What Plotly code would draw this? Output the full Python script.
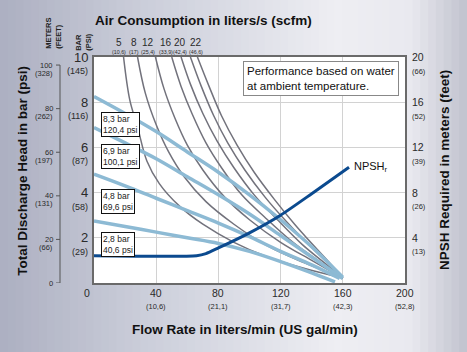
import plotly.graph_objects as go

# ---------------- data ----------------
# Pressure (inlet air) performance lines: flow (l/min) vs head (bar)
flow_83 = [0, 20, 40, 60, 80, 100, 120, 140, 160]
head_83 = [8.25, 7.5, 6.7, 5.8, 4.9, 3.9, 2.8, 1.6, 0.25]
flow_69 = [0, 20, 40, 60, 80, 100, 120, 140, 160]
head_69 = [6.88, 6.2, 5.5, 4.7, 3.9, 3.05, 2.1, 1.15, 0.2]
flow_48 = [0, 20, 40, 60, 80, 100, 120, 140, 158]
head_48 = [4.82, 4.3, 3.75, 3.2, 2.65, 2.05, 1.4, 0.8, 0.2]
flow_28 = [0, 20, 40, 60, 80, 100, 120, 140, 155]
head_28 = [2.75, 2.5, 2.25, 2.0, 1.75, 1.4, 0.95, 0.45, 0.05]

# Air consumption curves: flow (l/min) vs head (bar)
air_flow_1 = [19, 23, 28, 34, 42, 55, 70, 90, 110, 135, 160]
air_head_1 = [10, 8.1, 6.9, 5.4, 4.4, 3.4, 2.6, 1.8, 1.2, 0.65, 0.22]
air_flow_2 = [28, 33, 40, 48, 58, 72, 90, 110, 135, 160]
air_head_2 = [10, 8.4, 7.0, 5.8, 4.7, 3.6, 2.6, 1.7, 0.9, 0.22]
air_flow_3 = [39.5, 45, 52, 60, 70, 84, 100, 120, 140, 160]
air_head_3 = [10, 8.6, 7.3, 6.1, 5.0, 3.8, 2.8, 1.8, 1.0, 0.22]
air_flow_4 = [50, 56, 63, 72, 82, 95, 110, 128, 145, 160]
air_head_4 = [10, 8.7, 7.5, 6.2, 5.1, 3.9, 2.9, 1.8, 0.95, 0.22]
air_flow_5 = [56, 62, 70, 79, 90, 103, 118, 134, 148, 160]
air_head_5 = [10, 8.8, 7.5, 6.3, 5.1, 3.9, 2.8, 1.7, 0.9, 0.22]
air_flow_6 = [62, 69, 77, 86, 97, 110, 124, 138, 150, 160]
air_head_6 = [10, 8.7, 7.4, 6.2, 5.0, 3.8, 2.7, 1.7, 0.9, 0.22]
air_flow_7 = [66.5, 74, 82, 92, 103, 116, 129, 142, 152, 160]
air_head_7 = [10, 8.7, 7.4, 6.1, 4.9, 3.7, 2.6, 1.6, 0.85, 0.22]

# NPSH required: flow (l/min) vs meters
npsh_flow = [0, 66, 72, 80, 100, 120, 140, 164]
npsh_m = [2.42, 2.42, 2.6, 3.1, 4.44, 6.0, 7.9, 10.24]

# tick labels
bar_ticks = [10, 8, 6, 4, 2]
psi_labels = ["(145)", "(116)", "(87)", "(58)", "(29)"]
m_ticks = [100, 80, 60, 40, 20, 0]
ft_labels = ["(328)", "(262)", "(197)", "(131)", "(66)", ""]
flow_ticks = [0, 40, 80, 120, 160, 200]
gal_labels = ["", "(10,6)", "(21,1)", "(31,7)", "(42,3)", "(52,8)"]
npsh_ticks = [20, 16, 12, 8, 4]
npsh_ft = ["(66)", "(52)", "(39)", "(26)", "(13)"]
air_pos = [16.1, 25.4, 35.0, 46.5, 55.5, 65.8]
air_scfm = ["5", "8", "12", "16", "20", "22"]
air_lps = ["(10,6)", "(17)", "(25,4)", "(33,9)", "(42,4)", "(46,6)"]
box_labels = ["8,3 bar<br>120,4 psi", "6,9 bar<br>100,1 psi",
              "4,8 bar<br>69,6 psi", "2,8 bar<br>40,6 psi"]
box_tops = [7.57, 6.15, 4.16, 2.26]

# ---------------- figure ----------------
FONT = "Liberation Sans, Arial, sans-serif"
W, H = 467, 352
ML, MR, MT, MB = 94, 62, 57, 69
PW, PH = W - ML - MR, H - MT - MB


def px(xp):
    return (xp - ML) / PW


def py(yp):
    return (H - MB - yp) / PH


fig = go.Figure()

LB = "#8dbad4"
GR = "#72727c"
for fx, hy in [(air_flow_1, air_head_1), (air_flow_2, air_head_2), (air_flow_3, air_head_3),
               (air_flow_4, air_head_4), (air_flow_5, air_head_5), (air_flow_6, air_head_6),
               (air_flow_7, air_head_7)]:
    fig.add_trace(go.Scatter(x=fx, y=hy, mode="lines", line=dict(color=GR, width=1.5, shape="spline"),
                             hoverinfo="skip", showlegend=False))
for fx, hy in [(flow_83, head_83), (flow_69, head_69), (flow_48, head_48), (flow_28, head_28)]:
    fig.add_trace(go.Scatter(x=fx, y=hy, mode="lines", line=dict(color=LB, width=3.5, shape="spline"),
                             hoverinfo="skip", showlegend=False))
fig.add_trace(go.Scatter(x=npsh_flow, y=npsh_m, yaxis="y3", mode="lines",
                         line=dict(color="#0b4a8f", width=3, shape="spline", smoothing=0.6),
                         hoverinfo="skip", showlegend=False))

# background gradient
shapes = []
N = 60
stops = [(0.0, (172, 175, 193)), (0.3, (202, 205, 217)), (0.72, (238, 238, 243)),
         (0.88, (233, 233, 239)), (1.0, (192, 194, 206))]


def grad(f):
    for (f0, c0), (f1, c1) in zip(stops[:-1], stops[1:]):
        if f0 <= f <= f1:
            t = (f - f0) / (f1 - f0)
            return "rgb(%d,%d,%d)" % tuple(round(a + (b - a) * t) for a, b in zip(c0, c1))
    return "rgb(192,194,206)"


for i in range(N):
    x0p = W * i / N
    x1p = W * (i + 1) / N + 1
    shapes.append(dict(type="rect", xref="paper", yref="paper", x0=px(x0p), x1=px(x1p),
                       y0=py(H), y1=py(0), fillcolor=grad((i + 0.5) / N), line=dict(width=0),
                       layer="below"))
shapes.append(dict(type="rect", xref="paper", yref="paper", x0=0, x1=1, y0=0, y1=1,
                   fillcolor="white", line=dict(width=0), layer="below"))
# meters axis line and ticks
shapes.append(dict(type="line", xref="paper", yref="y2", x0=px(60), x1=px(60), y0=0, y1=100,
                   line=dict(color="#555", width=1)))
for m in m_ticks:
    shapes.append(dict(type="line", xref="paper", yref="y2", x0=px(56), x1=px(60), y0=m, y1=m,
                       line=dict(color="#555", width=1)))

ann = []
TXT = "#2a2a2a"


def A(**kw):
    kw.setdefault("showarrow", False)
    kw.setdefault("xanchor", "center")
    kw.setdefault("yanchor", "middle")
    ann.append(kw)


for v, s in zip(bar_ticks, psi_labels):
    A(x=px(90), y=v, xref="paper", yref="y", text=str(v), xanchor="right",
      font=dict(size=13, color=TXT, family=FONT))
    A(x=px(90), y=v, xref="paper", yref="y", text=s, yshift=-14, xanchor="right",
      font=dict(size=9, color=TXT, family=FONT))
for m, s in zip(m_ticks, ft_labels):
    A(x=px(55), y=m, xref="paper", yref="y2", text=str(m), xanchor="right",
      font=dict(size=7.5, color=TXT, family=FONT))
    if s:
        A(x=px(55), y=m, xref="paper", yref="y2", text=s, yshift=-8, xanchor="right",
          font=dict(size=7.5, color=TXT, family=FONT))
for v, s in zip(flow_ticks, gal_labels):
    A(x=v, y=py(293), xref="x", yref="paper", text=str(v), xshift=-7 if v == 0 else 0,
      font=dict(size=10.5, color=TXT, family=FONT))
    if s:
        A(x=v, y=py(306), xref="x", yref="paper", text=s,
          font=dict(size=7.5, color=TXT, family=FONT))
for v, s in zip(npsh_ticks, npsh_ft):
    A(x=px(410), y=v, xref="paper", yref="y3", text=str(v), xanchor="left",
      font=dict(size=10.5, color=TXT, family=FONT))
    A(x=px(410), y=v, xref="paper", yref="y3", text=s, yshift=-14, xanchor="left",
      font=dict(size=7.5, color=TXT, family=FONT))
for xpos, a, b in zip(air_pos, air_scfm, air_lps):
    A(x=xpos, y=py(42), xref="x", yref="paper", text=a,
      font=dict(size=10, color=TXT, family=FONT))
    A(x=xpos, y=py(51.5), xref="x", yref="paper", text=b,
      font=dict(size=5.3, color=TXT, family=FONT))
for t, ytop in zip(box_labels, box_tops):
    A(x=4.5, y=ytop, xref="x", yref="y", text=t, align="left",
      xanchor="left", yanchor="top", bgcolor="white", bordercolor="#111",
      borderwidth=1, borderpad=1, font=dict(size=8.5, color="#222", family=FONT))
A(x=95.5, y=9.82, xref="x", yref="y",
  text="Performance based on water<br>at ambient temperature.",
  align="left", xanchor="left", yanchor="top", bgcolor="white", bordercolor="#888",
  borderwidth=1, borderpad=3, font=dict(size=11.5, color="#111", family=FONT))
A(x=166, y=10.24, xref="x", yref="y3", text="NPSH<sub>r</sub>", xanchor="left",
  font=dict(size=11, color="#111", family=FONT))
# titles
TF = dict(size=13.5, color="#111", family=FONT)
A(x=px(203), y=py(20), xref="paper", yref="paper",
  text="<b>Air Consumption in liters/s (scfm)</b>", font=TF)
A(x=px(244.5), y=py(329), xref="paper", yref="paper",
  text="<b>Flow Rate in liters/min (US gal/min)</b>", font=TF)
A(x=px(21.7), y=py(171), xref="paper", yref="paper", textangle=-90,
  text="<b>Total Discharge Head in bar (psi)</b>", font=TF)
A(x=px(444), y=py(170), xref="paper", yref="paper", textangle=-90,
  text="<b>NPSH Required in meters (feet)</b>", font=TF)
A(x=px(83.3), y=py(41.5), xref="paper", yref="paper", textangle=-90,
  text="<b>BAR<br>(PSI)</b>", align="left",
  font=dict(size=7.5, color="#222", family=FONT))
A(x=px(53.3), y=py(33.5), xref="paper", yref="paper", textangle=-90,
  text="<b>METERS<br>(FEET)</b>", align="left",
  font=dict(size=7.5, color="#222", family=FONT))

fig.update_layout(
    width=W, height=H, margin=dict(l=ML, r=MR, t=MT, b=MB),
    paper_bgcolor="#d8d9e2", plot_bgcolor="white",
    showlegend=False, shapes=shapes, annotations=ann,
    xaxis=dict(range=[0, 200], tickvals=[40, 80, 120, 160], showticklabels=False, ticks="",
               showgrid=True, gridcolor="#d2d2d2", gridwidth=1, zeroline=False,
               showline=True, linecolor="#6a6a6a", linewidth=1.5, mirror=True, fixedrange=True),
    yaxis=dict(range=[0, 10], tickvals=[2, 4, 6, 8], showticklabels=False, ticks="",
               showgrid=True, gridcolor="#d2d2d2", gridwidth=1, zeroline=False,
               showline=True, linecolor="#6a6a6a", linewidth=1.5, mirror=True, fixedrange=True),
    yaxis2=dict(range=[0, 103.7], overlaying="y", showgrid=False, showticklabels=False,
                zeroline=False, showline=False, ticks="", fixedrange=True),
    yaxis3=dict(range=[0, 20], overlaying="y", side="right", showgrid=False, showticklabels=False,
                zeroline=False, showline=False, ticks="", fixedrange=True),
)

fig.write_html("out.html")
